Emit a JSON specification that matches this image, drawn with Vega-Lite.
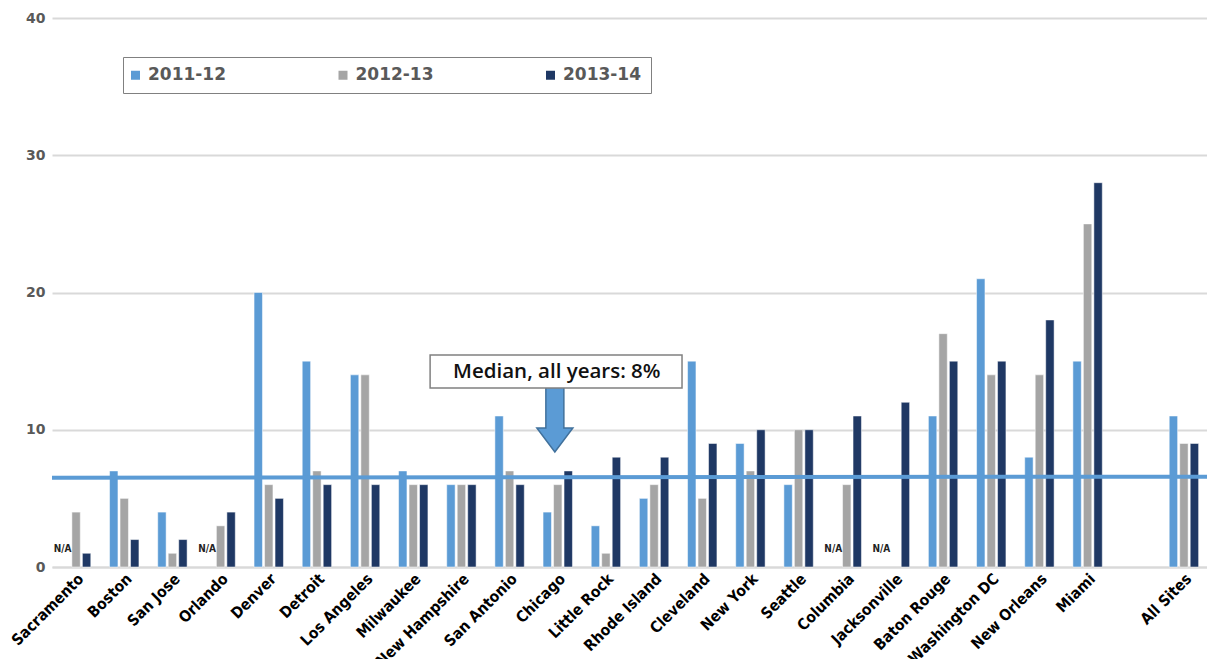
{
  "$schema": "https://vega.github.io/schema/vega-lite/v6.json",
  "autosize": "none",
  "width": 1156,
  "height": 549,
  "padding": {"left": 52, "top": 18, "right": 0, "bottom": 92},
  "background": "white",
  "config": {"view": {"stroke": null}},
  "datasets": {
    "bars": [
      {"site": "Sacramento", "year": "2011-12", "value": null, "na": "N/A"},
      {"site": "Sacramento", "year": "2012-13", "value": 4},
      {"site": "Sacramento", "year": "2013-14", "value": 1},
      {"site": "Boston", "year": "2011-12", "value": 7},
      {"site": "Boston", "year": "2012-13", "value": 5},
      {"site": "Boston", "year": "2013-14", "value": 2},
      {"site": "San Jose", "year": "2011-12", "value": 4},
      {"site": "San Jose", "year": "2012-13", "value": 1},
      {"site": "San Jose", "year": "2013-14", "value": 2},
      {"site": "Orlando", "year": "2011-12", "value": null, "na": "N/A"},
      {"site": "Orlando", "year": "2012-13", "value": 3},
      {"site": "Orlando", "year": "2013-14", "value": 4},
      {"site": "Denver", "year": "2011-12", "value": 20},
      {"site": "Denver", "year": "2012-13", "value": 6},
      {"site": "Denver", "year": "2013-14", "value": 5},
      {"site": "Detroit", "year": "2011-12", "value": 15},
      {"site": "Detroit", "year": "2012-13", "value": 7},
      {"site": "Detroit", "year": "2013-14", "value": 6},
      {"site": "Los Angeles", "year": "2011-12", "value": 14},
      {"site": "Los Angeles", "year": "2012-13", "value": 14},
      {"site": "Los Angeles", "year": "2013-14", "value": 6},
      {"site": "Milwaukee", "year": "2011-12", "value": 7},
      {"site": "Milwaukee", "year": "2012-13", "value": 6},
      {"site": "Milwaukee", "year": "2013-14", "value": 6},
      {"site": "New Hampshire", "year": "2011-12", "value": 6},
      {"site": "New Hampshire", "year": "2012-13", "value": 6},
      {"site": "New Hampshire", "year": "2013-14", "value": 6},
      {"site": "San Antonio", "year": "2011-12", "value": 11},
      {"site": "San Antonio", "year": "2012-13", "value": 7},
      {"site": "San Antonio", "year": "2013-14", "value": 6},
      {"site": "Chicago", "year": "2011-12", "value": 4},
      {"site": "Chicago", "year": "2012-13", "value": 6},
      {"site": "Chicago", "year": "2013-14", "value": 7},
      {"site": "Little Rock", "year": "2011-12", "value": 3},
      {"site": "Little Rock", "year": "2012-13", "value": 1},
      {"site": "Little Rock", "year": "2013-14", "value": 8},
      {"site": "Rhode Island", "year": "2011-12", "value": 5},
      {"site": "Rhode Island", "year": "2012-13", "value": 6},
      {"site": "Rhode Island", "year": "2013-14", "value": 8},
      {"site": "Cleveland", "year": "2011-12", "value": 15},
      {"site": "Cleveland", "year": "2012-13", "value": 5},
      {"site": "Cleveland", "year": "2013-14", "value": 9},
      {"site": "New York", "year": "2011-12", "value": 9},
      {"site": "New York", "year": "2012-13", "value": 7},
      {"site": "New York", "year": "2013-14", "value": 10},
      {"site": "Seattle", "year": "2011-12", "value": 6},
      {"site": "Seattle", "year": "2012-13", "value": 10},
      {"site": "Seattle", "year": "2013-14", "value": 10},
      {"site": "Columbia", "year": "2011-12", "value": null, "na": "N/A"},
      {"site": "Columbia", "year": "2012-13", "value": 6},
      {"site": "Columbia", "year": "2013-14", "value": 11},
      {"site": "Jacksonville", "year": "2011-12", "value": null, "na": "N/A"},
      {"site": "Jacksonville", "year": "2012-13", "value": null},
      {"site": "Jacksonville", "year": "2013-14", "value": 12},
      {"site": "Baton Rouge", "year": "2011-12", "value": 11},
      {"site": "Baton Rouge", "year": "2012-13", "value": 17},
      {"site": "Baton Rouge", "year": "2013-14", "value": 15},
      {"site": "Washington DC", "year": "2011-12", "value": 21},
      {"site": "Washington DC", "year": "2012-13", "value": 14},
      {"site": "Washington DC", "year": "2013-14", "value": 15},
      {"site": "New Orleans", "year": "2011-12", "value": 8},
      {"site": "New Orleans", "year": "2012-13", "value": 14},
      {"site": "New Orleans", "year": "2013-14", "value": 18},
      {"site": "Miami", "year": "2011-12", "value": 15},
      {"site": "Miami", "year": "2012-13", "value": 25},
      {"site": "Miami", "year": "2013-14", "value": 28},
      {"site": "All Sites", "year": "2011-12", "value": 11},
      {"site": "All Sites", "year": "2012-13", "value": 9},
      {"site": "All Sites", "year": "2013-14", "value": 9}
    ]
  },
  "layer": [
    {
      "data": {"name": "bars"},
      "layer": [
        {
          "mark": {"type": "bar", "stroke": "white", "strokeWidth": 0.5},
          "encoding": {
            "x": {
              "field": "site", "type": "nominal",
              "scale": {
                "domain": ["Sacramento","Boston","San Jose","Orlando","Denver","Detroit","Los Angeles","Milwaukee","New Hampshire","San Antonio","Chicago","Little Rock","Rhode Island","Cleveland","New York","Seattle","Columbia","Jacksonville","Baton Rouge","Washington DC","New Orleans","Miami"," ","All Sites"],
                "paddingInner": 0.39, "paddingOuter": 0.195
              },
              "axis": {
                "title": null, "labelAngle": -45, "labelFont": "DejaVu Sans Condensed, Roboto Condensed, Liberation Sans", "labelFontWeight": "bold",
                "labelFontSize": 15.5, "labelColor": "#000000", "ticks": false, "labelPadding": 4,
                "domainColor": "#d9d9d9", "domainWidth": 2, "labelOverlap": false
              }
            },
            "xOffset": {"field": "year", "type": "nominal", "scale": {"paddingInner": 0.2, "paddingOuter": 0}},
            "y": {
              "field": "value", "type": "quantitative",
              "scale": {"domain": [0, 40]},
              "axis": {
                "title": null, "values": [0, 10, 20, 30, 40], "domain": false, "ticks": false,
                "gridColor": "#d9d9d9", "gridWidth": 2, "labelFont": "DejaVu Sans", "labelFontWeight": "bold",
                "labelFontSize": 14, "labelColor": "#595959", "labelPadding": 7
              }
            },
            "color": {
              "field": "year", "type": "nominal",
              "scale": {"domain": ["2011-12", "2012-13", "2013-14"], "range": ["#5b9bd5", "#a5a5a5", "#1f3864"]},
              "legend": {
                "title": null, "orient": "none", "direction": "horizontal", "columns": 3,
                "legendX": 71, "legendY": 39, "padding": 9.5, "strokeColor": "#808080", "fillColor": "white",
                "symbolType": "square", "symbolSize": 81, "symbolStrokeWidth": 0, "labelOffset": 4, "symbolOffset": -5.5,
                "labelFont": "DejaVu Sans", "labelFontWeight": "bold", "labelFontSize": 17,
                "labelColor": "#595959", "columnPadding": 111.5
              }
            }
          }
        },
        {
          "transform": [{"filter": "datum.na"}],
          "mark": {"type": "text", "font": "DejaVu Sans Condensed, Roboto Condensed, Liberation Sans", "fontWeight": "bold", "fontSize": 10, "color": "#222222", "dx": -3},
          "encoding": {
            "x": {"field": "site", "type": "nominal"},
            "xOffset": {"field": "year", "type": "nominal"},
            "y": {"datum": 1.3},
            "text": {"field": "na"}
          }
        }
      ]
    },
    {
      "data": {"values": [{"x": 0, "x2": 24, "y": 6.5, "y2": 6.58}]},
      "mark": {"type": "rule", "color": "#5b9bd5", "strokeWidth": 4},
      "encoding": {
        "x": {"field": "x", "type": "quantitative", "scale": {"domain": [0, 24], "nice": false}, "axis": null},
        "x2": {"field": "x2"},
        "y": {"field": "y", "type": "quantitative"},
        "y2": {"field": "y2"}
      }
    },
    {
      "data": {"values": [{"x": 10.44, "y": 10.75}]},
      "mark": {"type": "point", "shape": "M-0.277,-1L0.277,-1L0.277,0.26L0.554,0.26L0,1L-0.554,0.26L-0.277,0.26Z", "size": 4225, "filled": true, "fill": "#5b9bd5", "stroke": "#41719c", "strokeWidth": 1.5, "opacity": 1},
      "encoding": {
        "x": {"field": "x", "type": "quantitative", "scale": {"domain": [0, 24], "nice": false}, "axis": null},
        "y": {"field": "y", "type": "quantitative"}
      }
    },
    {
      "data": {"values": [{"x": 7.85, "x2": 13.08, "y": 13.04, "y2": 15.45, "label": "Median, all years: 8%", "tx": 10.48, "ty": 14.24}]},
      "layer": [
        {
          "mark": {"type": "rect", "fill": "white", "stroke": "#808080", "strokeWidth": 1.5},
          "encoding": {
            "x": {"field": "x", "type": "quantitative", "scale": {"domain": [0, 24], "nice": false}, "axis": null},
            "x2": {"field": "x2"},
            "y": {"field": "y", "type": "quantitative"},
            "y2": {"field": "y2"}
          }
        },
        {
          "mark": {"type": "text", "font": "Open Sans", "fontWeight": 600, "fontSize": 20.5, "color": "#111111", "baseline": "middle", "align": "center"},
          "encoding": {
            "x": {"field": "tx", "type": "quantitative", "scale": {"domain": [0, 24], "nice": false}, "axis": null},
            "y": {"field": "ty", "type": "quantitative"},
            "text": {"field": "label"}
          }
        }
      ]
    }
  ],
  "resolve": {"scale": {"x": "independent"}}
}
